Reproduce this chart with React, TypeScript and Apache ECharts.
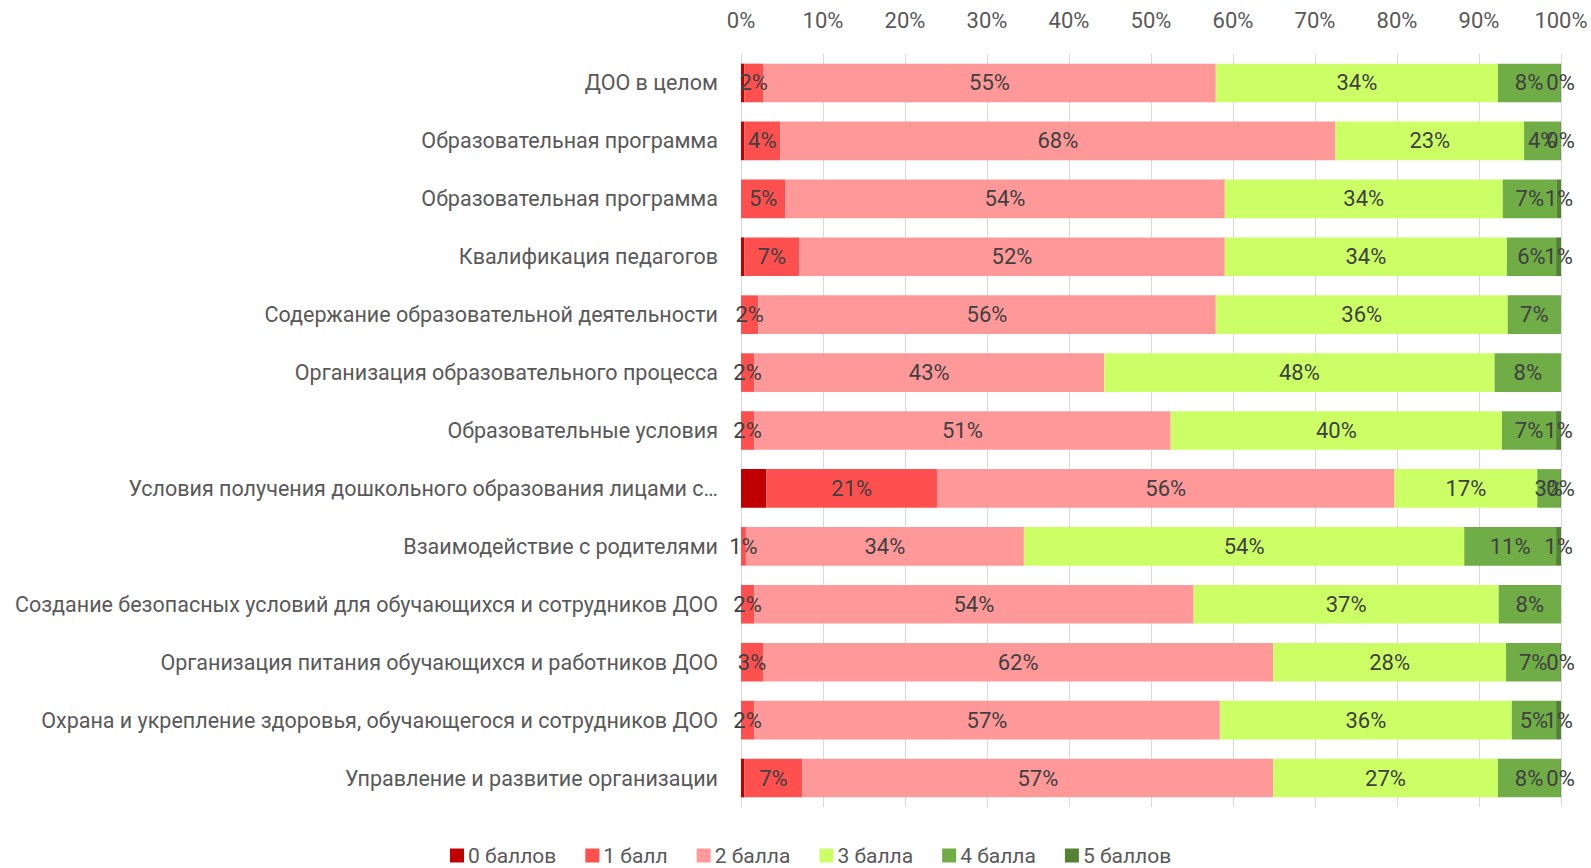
import React, { useEffect, useRef } from "react";
import * as echarts from "echarts";

const categories = [
  "ДОО в целом",
  "Образовательная программа",
  "Образовательная программа",
  "Квалификация педагогов",
  "Содержание образовательной деятельности",
  "Организация образовательного процесса",
  "Образовательные условия",
  "Условия получения дошкольного образования лицами с…",
  "Взаимодействие с родителями",
  "Создание безопасных условий для обучающихся и сотрудников ДОО",
  "Организация питания обучающихся и работников ДОО",
  "Охрана и укрепление здоровья, обучающегося и сотрудников ДОО",
  "Управление и развитие организации",
];

const seriesNames = ["0 баллов", "1 балл", "2 балла", "3 балла", "4 балла", "5 баллов"];
const seriesColors = ["#C00000", "#FF5050", "#FF9999", "#CCFF66", "#70AD47", "#548235"];

const score0 = [0.4, 0.4, 0, 0.4, 0, 0, 0, 3.1, 0, 0, 0, 0, 0.4];
const score1 = [2.3, 4.4, 5.4, 6.7, 2.1, 1.6, 1.6, 20.8, 0.6, 1.6, 2.7, 1.6, 7.1];
const score2 = [55.2, 67.7, 53.6, 51.9, 55.8, 42.7, 50.8, 55.8, 33.9, 53.6, 62.2, 56.8, 57.4];
const score3 = [34.4, 23.0, 33.9, 34.4, 35.6, 47.6, 40.4, 17.4, 53.7, 37.2, 28.4, 35.6, 27.4];
const score4 = [7.6, 4.4, 6.6, 6.0, 6.5, 8.1, 6.6, 2.8, 11.2, 7.6, 6.6, 5.4, 7.6];
const score5 = [0.1, 0.1, 0.5, 0.6, 0, 0, 0.6, 0.1, 0.6, 0, 0.1, 0.6, 0.1];

const xTicks = [0, 10, 20, 30, 40, 50, 60, 70, 80, 90, 100];

const FONT = "Roboto";

export default function App() {
  const ref = useRef<HTMLDivElement>(null);
  useEffect(() => {
    document.body.style.margin = "0";
    if (!ref.current) return;
    const chart = echarts.init(ref.current, undefined, { renderer: "svg" });
    const allData = [score0, score1, score2, score3, score4, score5];
    chart.setOption({
      animation: false,
      backgroundColor: "#ffffff",
      textStyle: { fontFamily: FONT },
      grid: { left: 741, right: 30, top: 54, bottom: 61, containLabel: false },
      legend: {
        top: 845,
        left: 450,
        padding: 0,
        itemWidth: 14,
        itemHeight: 14,
        itemGap: 29,
        icon: "rect",
        textStyle: {
          fontFamily: FONT,
          fontSize: 21,
          lineHeight: 20,
          color: "#595959",
          padding: [0, 0, 0, -1],
        },
        data: seriesNames,
      },
      xAxis: {
        type: "value",
        position: "top",
        min: xTicks[0],
        max: xTicks[xTicks.length - 1],
        interval: 10,
        axisLine: { show: false },
        axisTick: { show: false },
        splitLine: { show: true, lineStyle: { color: "#D9D9D9", width: 1 } },
        axisLabel: {
          formatter: (v: number) => v + "%",
          fontFamily: FONT,
          fontSize: 22,
          color: "#595959",
          margin: 23,
        },
      },
      yAxis: {
        type: "category",
        inverse: true,
        data: categories,
        axisLine: { show: true, lineStyle: { color: "#D9D9D9" } },
        axisTick: { show: false },
        axisLabel: {
          fontFamily: FONT,
          fontSize: 21.5,
          color: "#595959",
          margin: 23,
        },
      },
      series: allData.map((d, i) => ({
        name: seriesNames[i],
        type: "bar",
        stack: "total",
        barCategoryGap: "33.3%",
        data: d,
        itemStyle: { color: seriesColors[i] },
        label: {
          show: i !== 0,
          position: "inside",
          fontFamily: FONT,
          fontSize: 22,
          color: "#404040",
          formatter: (p: any) => (p.value > 0 ? Math.round(p.value) + "%" : ""),
        },
      })),
    });
    return () => chart.dispose();
  }, []);
  return <div ref={ref} style={{ width: 1591, height: 868 }} />;
}
